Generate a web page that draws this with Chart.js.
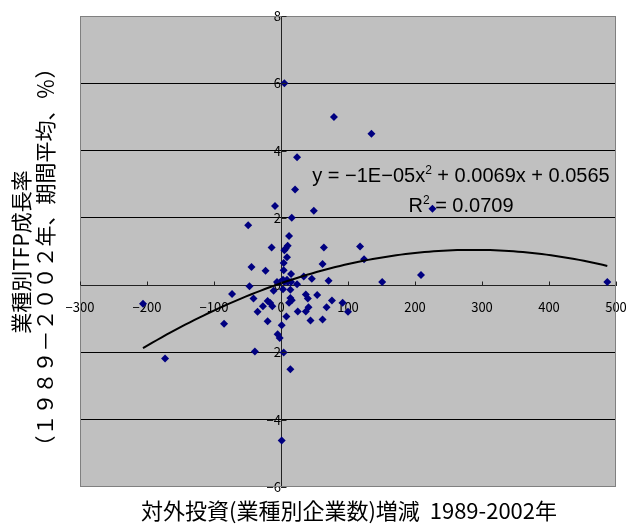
<!DOCTYPE html>
<html>
<head>
<meta charset="utf-8">
<title>業種別TFP成長率と対外投資</title>
<script src="https://cdn.jsdelivr.net/npm/chart.js@4.4.0/dist/chart.umd.min.js"></script>
<style>
  html, body { margin: 0; padding: 0; background: #fff; }
  #wrap { position: relative; width: 626px; height: 525px; }
</style>
</head>
<body>
<div id="wrap"><canvas id="scatter-chartcanvas" width="626" height="525"></canvas></div>
<script>
// increase in firms investing abroad by industry, 1989-2002
var investChange = [
  5, 79, 135, 24, 21, -9, 49, 226, 16, -49,
  12, -14, 10, 7, 5, 64, 118, 9, 124, 62,
  -44, 4, -23, 4, 15, 34, 46, 209, 71, 151,
  487, -47, -6, -1, 5, 10, 15, 3, 9, 24,
  -11, 3, 14, -73, -41, -20, -16, -13, -27, -35,
  14, 16, 12, 37, 40, 54, 41, 37, 25, 44,
  62, 68, 76, 92, 100, -20, 8, 1, -5, -2,
  -39, 4, 14, 1, -85, -173, -206
];
// industry TFP growth, period average (%)
var tfpGrowth = [
  6.0, 5.0, 4.5, 3.8, 2.84, 2.35, 2.21, 2.27, 2.0, 1.78,
  1.46, 1.12, 1.17, 1.09, 1.04, 1.12, 1.15, 0.83, 0.77, 0.63,
  0.54, 0.66, 0.43, 0.44, 0.33, 0.26, 0.19, 0.3, 0.13, 0.09,
  0.09, -0.03, 0.09, 0.09, 0.09, 0.09, 0.09, 0.16, 0.16, 0.03,
  -0.17, -0.12, -0.14, -0.26, -0.4, -0.47, -0.53, -0.63, -0.63, -0.79,
  -0.38, -0.45, -0.52, -0.28, -0.4, -0.29, -0.66, -0.78, -0.78, -1.05,
  -1.02, -0.66, -0.46, -0.52, -0.79, -1.07, -0.93, -1.19, -1.46, -1.57,
  -1.97, -2.0, -2.5, -4.62, -1.15, -2.18, -0.55
];

var xTicks = [-300, -200, -100, 0, 100, 200, 300, 400, 500];
var yTicks = [-6, -4, -2, 0, 2, 4, 6, 8];

// quadratic trend: a*x^2 + b*x + c, over the observed x range
var trendCoef = [-1.2e-5, 0.0069, 0.0565];
var trendRange = [-206, 487];
var trendLabel = ['y = −1E−05x', '2', ' + 0.0069x + 0.0565'];
var r2Label = ['R', '2', ' = 0.0709'];

var xTitle = '対外投資(業種別企業数)増減\u00a0\u00a01989-2002年';
var yTitle = ['業種別TFP成長率', '（１９８９－２００２年、期間平均、％）'];

var points = [];
for (var i = 0; i < investChange.length; i++) {
  points.push({ x: investChange[i], y: tfpGrowth[i] });
}

var trendPoints = [];
for (var t = trendRange[0]; t <= trendRange[1]; t += 7) {
  trendPoints.push({ x: t, y: trendCoef[0] * t * t + trendCoef[1] * t + trendCoef[2] });
}

var tickFont = { family: "'Noto Sans CJK JP', sans-serif", size: 13 };
var minus = function (v) { return String(v).replace('-', '−'); };

// text with a superscript piece in the middle, centred on cx
function drawSup(ctx, parts, cx, baseline, size) {
  var big = size + "px 'Liberation Sans', Arial, sans-serif";
  var small = Math.round(size * 0.62) + "px 'Liberation Sans', Arial, sans-serif";
  ctx.font = big;
  var w0 = ctx.measureText(parts[0]).width;
  var w2 = ctx.measureText(parts[2]).width;
  ctx.font = small;
  var w1 = ctx.measureText(parts[1]).width;
  var x = cx - (w0 + w1 + w2) / 2;
  ctx.textAlign = 'left';
  ctx.textBaseline = 'alphabetic';
  ctx.font = big;
  ctx.fillText(parts[0], x, baseline);
  ctx.font = small;
  ctx.fillText(parts[1], x + w0, baseline - size * 0.42);
  ctx.font = big;
  ctx.fillText(parts[2], x + w0 + w1, baseline);
}

function rotatedText(ctx, text, x, y) {
  ctx.save();
  ctx.translate(x, y);
  ctx.rotate(-Math.PI / 2);
  ctx.fillText(text, 0, 0);
  ctx.restore();
}

var plotFrame = {
  id: 'plotFrame',
  beforeDraw: function (chart) {
    var a = chart.chartArea, ctx = chart.ctx;
    ctx.save();
    ctx.fillStyle = '#c0c0c0';
    ctx.fillRect(a.left, a.top, a.right - a.left, a.bottom - a.top);
    ctx.restore();
  },
  afterDraw: function (chart) {
    var a = chart.chartArea, ctx = chart.ctx;
    var xs = chart.scales.x, ys = chart.scales.y;
    var x0 = Math.round(xs.getPixelForValue(0)) + 0.5;
    var y0 = Math.round(ys.getPixelForValue(0)) + 0.5;
    ctx.save();
    ctx.strokeStyle = '#808080';
    ctx.lineWidth = 1;
    ctx.strokeRect(a.left + 0.5, a.top + 0.5, a.right - a.left - 1, a.bottom - a.top - 1);

    // small tick marks on the crossing axes
    ctx.strokeStyle = '#222';
    ctx.beginPath();
    xTicks.forEach(function (v) {
      var px = Math.round(xs.getPixelForValue(v)) + 0.5;
      ctx.moveTo(px, y0); ctx.lineTo(px, y0 - 4);
    });
    yTicks.forEach(function (v) {
      var py = Math.round(ys.getPixelForValue(v)) + 0.5;
      ctx.moveTo(x0, py); ctx.lineTo(x0 + 5, py);
    });
    ctx.stroke();

    // trend equation
    ctx.fillStyle = '#000';
    drawSup(ctx, trendLabel, 461, 182, 20);
    drawSup(ctx, r2Label, 461, 212, 20);

    // axis titles
    ctx.textAlign = 'center';
    ctx.textBaseline = 'middle';
    ctx.font = "22px 'Noto Sans CJK JP', sans-serif";
    ctx.fillText(xTitle, 349, 511);
    ctx.font = "21px 'Noto Sans CJK JP', sans-serif";
    rotatedText(ctx, yTitle[0], 21, 252);
    rotatedText(ctx, yTitle[1], 45, 257);
    ctx.restore();
  }
};

// crossing axes take no room from the plot
function noPadX(s) { s.paddingLeft = 0; s.paddingRight = 0; }
function noPadY(s) { s.paddingTop = 0; s.paddingBottom = 0; }

var ctx = document.getElementById('scatter-chartcanvas');

var chart = new Chart(ctx, {
  type: 'scatter',
  data: {
    datasets: [
      {
        label: 'trend',
        data: trendPoints,
        showLine: true,
        borderColor: '#000',
        borderWidth: 2,
        pointRadius: 0,
        fill: false,
        tension: 0
      },
      {
        label: 'industries',
        data: points,
        pointStyle: 'rectRot',
        pointRadius: 4,
        backgroundColor: '#000080',
        borderColor: '#000080',
        borderWidth: 0
      }
    ]
  },
  options: {
    responsive: false,
    animation: false,
    layout: { padding: { left: 80, right: 10, top: 16, bottom: 38 } },
    plugins: {
      legend: { display: false },
      tooltip: { enabled: false }
    },
    scales: {
      x: {
        type: 'linear',
        position: { y: 0 },
        min: -300,
        max: 500,
        afterBuildTicks: function (axis) {
          axis.ticks = xTicks.map(function (v) { return { value: v }; });
        },
        afterFit: noPadX,
        ticks: { font: tickFont, color: '#000', padding: 14, maxRotation: 0, callback: minus },
        grid: { drawOnChartArea: false, drawTicks: false },
        border: { color: '#222', width: 1 }
      },
      y: {
        type: 'linear',
        position: { x: 0 },
        min: -6,
        max: 8,
        afterBuildTicks: function (axis) {
          axis.ticks = yTicks.map(function (v) { return { value: v }; });
        },
        afterFit: noPadY,
        ticks: { font: tickFont, color: '#000', padding: 10, callback: minus },
        grid: {
          drawTicks: false,
          color: function (c) {
            var v = c.tick ? c.tick.value : 0;
            return (v === 8 || v === -6) ? 'rgba(0,0,0,0)' : '#000';
          },
          lineWidth: 1
        },
        border: { color: '#222', width: 1 }
      }
    }
  },
  plugins: [plotFrame]
});
</script>
</body>
</html>
